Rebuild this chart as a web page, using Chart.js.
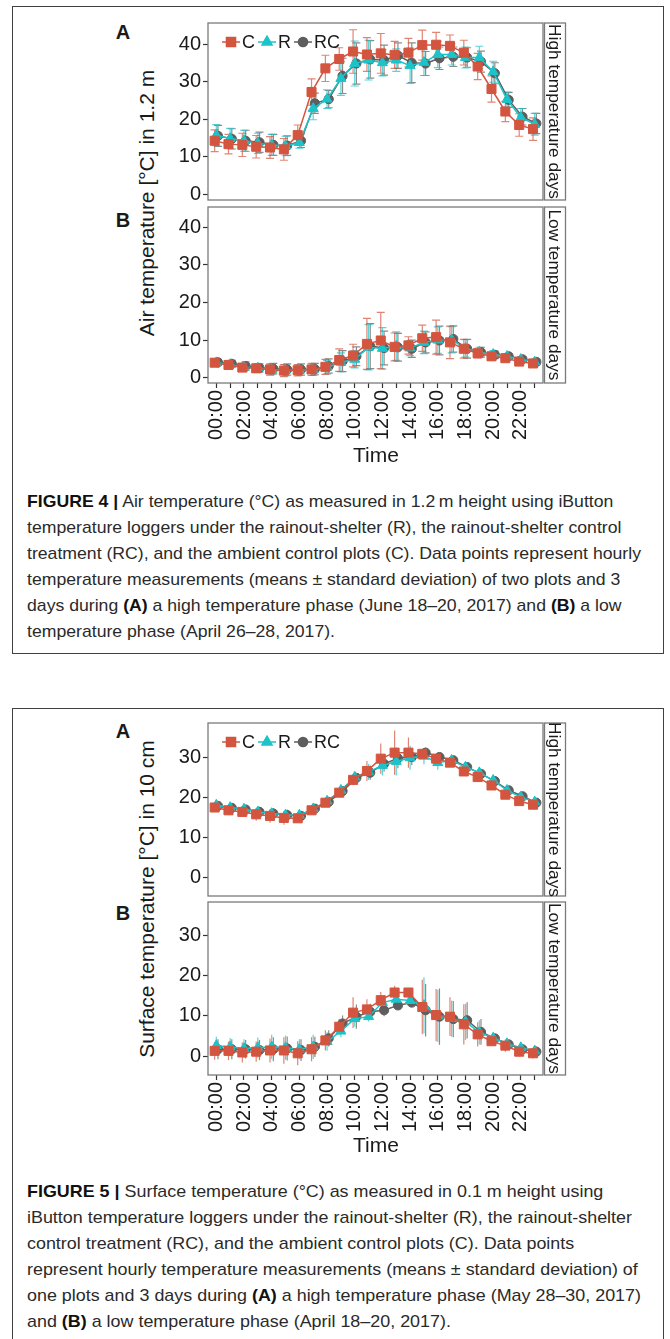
<!DOCTYPE html>
<html>
<head>
<meta charset="utf-8">
<title>Figures 4 and 5</title>
<script src="https://cdn.jsdelivr.net/npm/chart.js@4.4.1/dist/chart.umd.min.js"></script>
<style>
  body { margin:0; width:670px; height:1339px; position:relative; overflow:hidden; background:#fff;
         font-family:"Liberation Sans", Arial, sans-serif; color:#1a1a1a; }
  .box { position:absolute; left:12px; width:650px; border:1px solid #404040; }
  canvas { position:absolute; left:150px; }
  .tag { position:absolute; font-weight:bold; font-size:20px; line-height:20px; width:20px; text-align:center; }
  .ytitle { position:absolute; left:-53px; width:400px; height:24px; line-height:24px; text-align:center;
            font-size:21px; transform:rotate(-90deg); white-space:nowrap; }
  .xtitle { position:absolute; left:276px; width:200px; text-align:center; font-size:21px; line-height:24px; }
  .cap { position:absolute; left:27px; font-size:17px; line-height:26px; color:#2a2a2a; white-space:nowrap; transform-origin:0 0; }
  .cap b { color:#111; }
</style>
</head>
<body>
<div class="box" style="top:6px;height:646px"></div>
<div class="box" style="top:708px;height:700px"></div>

<div class="tag" style="left:113px;top:22px">A</div>
<div class="tag" style="left:113px;top:210px">B</div>
<div class="ytitle" style="top:191px">Air temperature [°C] in 1.2 m</div>
<canvas id="air-high" width="420" height="193" style="top:15px;width:420px;height:193px"></canvas>
<canvas id="air-low" width="420" height="246" style="top:199px;width:420px;height:246px"></canvas>
<div class="xtitle" style="top:443px">Time</div>
<div class="cap" id="cap4" style="top:489px">
<span class="ln"><b>FIGURE 4 |</b> Air temperature (°C) as measured in 1.2&thinsp;m height using iButton</span><br>
<span class="ln">temperature loggers under the rainout-shelter (R), the rainout-shelter control</span><br>
<span class="ln">treatment (RC), and the ambient control plots (C). Data points represent hourly</span><br>
<span class="ln">temperature measurements (means ± standard deviation) of two plots and 3</span><br>
<span class="ln">days during <b>(A)</b> a high temperature phase (June 18–20, 2017) and <b>(B)</b> a low</span><br>
<span class="ln">temperature phase (April 26–28, 2017).</span>
</div>

<div class="tag" style="left:113px;top:721px">A</div>
<div class="tag" style="left:113px;top:903px">B</div>
<div class="ytitle" style="top:887px">Surface temperature [°C] in 10 cm</div>
<canvas id="surf-high" width="420" height="189" style="top:715px;width:420px;height:189px"></canvas>
<canvas id="surf-low" width="420" height="243" style="top:894px;width:420px;height:243px"></canvas>
<div class="xtitle" style="top:1133px">Time</div>
<div class="cap" id="cap5" style="top:1179px">
<span class="ln"><b>FIGURE 5 |</b> Surface temperature (°C) as measured in 0.1 m height using</span><br>
<span class="ln">iButton temperature loggers under the rainout-shelter (R), the rainout-shelter</span><br>
<span class="ln">control treatment (RC), and the ambient control plots (C). Data points</span><br>
<span class="ln">represent hourly temperature measurements (means ± standard deviation) of</span><br>
<span class="ln">one plots and 3 days during <b>(A)</b> a high temperature phase (May 28–30, 2017)</span><br>
<span class="ln">and <b>(B)</b> a low temperature phase (April 18–20, 2017).</span>
</div>

<script>
const hours = [0,1,2,3,4,5,6,7,8,9,10,11,12,13,14,15,16,17,18,19,20,21,22,23];
const timeLabels = ["00:00","02:00","04:00","06:00","08:00","10:00","12:00","14:00","16:00","18:00","20:00","22:00"];
const seriesNames = ["C", "R", "RC"];
const airTicks = [0, 10, 20, 30, 40];
const surfTicks = [0, 10, 20, 30];

// Figure 4 A - air, high temperature days
const airHighC    = [14.2,13.3,13.1,12.6,12.4,11.9,15.7,27.2,33.5,36.0,38.0,37.2,37.5,37.1,37.7,39.7,39.8,39.5,37.7,34.0,28.0,22.0,18.4,17.3];
const airHighCSd  = [2.9,2.6,3.1,3.0,2.9,2.9,2.7,3.5,3.5,3.0,5.8,4.5,5.3,3.6,3.8,4.0,3.3,2.9,3.3,3.5,3.5,2.7,3.0,3.0];
const airHighR    = [15.7,14.8,14.2,13.5,13.1,12.8,13.7,22.8,25.3,30.8,34.8,35.7,35.0,35.7,34.2,35.1,37.2,37.2,36.4,36.4,32.6,25.2,20.4,18.6];
const airHighRSd  = [2.8,2.7,2.8,2.7,2.8,2.6,1.5,3.0,2.5,4.5,6.0,5.3,3.5,3.0,4.7,3.5,3.5,2.8,2.8,3.0,2.8,2.0,2.4,2.9];
const airHighRC   = [15.5,14.7,14.2,13.8,13.1,12.9,14.2,24.2,25.3,31.5,34.8,35.9,35.7,36.9,35.0,34.8,36.2,36.6,36.4,35.3,32.2,25.1,20.6,18.8];
const airHighRCSd = [2.8,2.7,2.8,2.7,2.8,2.6,1.8,2.7,2.3,4.7,5.5,5.0,4.0,3.4,5.3,3.2,3.0,2.6,2.6,2.8,2.8,2.0,2.2,2.7];

// Figure 4 B - air, low temperature days
const airLowC    = [4.0,3.4,2.7,2.5,2.2,1.9,2.0,2.2,2.9,4.7,5.9,9.0,9.9,8.2,8.6,10.5,10.8,9.4,7.7,6.5,5.7,5.2,4.3,3.8];
const airLowCSd  = [0.8,0.9,1.0,1.1,1.5,1.6,1.5,1.6,2.0,3.0,3.0,6.8,7.5,3.7,2.3,3.5,4.5,4.3,2.5,1.2,1.0,0.6,0.7,0.8];
const airLowR    = [4.0,3.5,2.8,2.6,2.2,2.0,2.0,2.1,2.8,4.1,4.9,8.1,7.8,8.4,7.9,9.4,10.0,10.1,7.8,6.8,6.2,5.7,4.9,4.2];
const airLowRSd  = [0.8,0.9,1.0,1.1,1.4,1.5,1.4,1.5,1.8,2.5,2.3,6.0,5.5,3.8,2.0,3.0,3.5,3.5,2.3,1.3,1.0,0.7,0.7,0.7];
const airLowRC   = [4.1,3.7,3.1,2.6,2.4,2.2,2.2,2.3,3.1,4.4,5.7,8.4,7.9,8.1,7.7,9.4,9.9,10.3,7.7,6.8,6.1,5.7,4.9,4.2];
const airLowRCSd = [0.8,0.9,1.1,1.1,1.4,1.5,1.5,1.5,1.9,2.8,2.5,6.0,4.5,3.7,2.3,2.8,3.8,3.5,2.5,1.3,1.0,0.7,0.7,0.8];

// Figure 5 A - surface, high temperature days
const surfHighC    = [17.4,16.7,16.3,15.7,15.3,14.8,14.7,16.7,18.6,21.1,24.3,26.5,29.6,31.1,31.1,30.8,29.6,28.6,26.4,25.0,22.9,20.6,19.0,18.1];
const surfHighCSd  = [1.0,1.2,1.3,1.6,1.7,1.7,1.0,0.8,0.6,0.9,1.3,2.5,3.8,5.5,3.8,1.3,1.0,0.8,0.7,0.8,0.8,0.6,0.5,0.5];
const surfHighR    = [18.0,17.4,17.0,16.3,15.9,15.5,15.5,17.1,19.0,21.7,25.0,26.3,27.9,28.9,29.8,30.2,28.6,29.2,27.5,26.1,24.2,21.7,20.0,18.8];
const surfHighRSd  = [0.8,1.0,1.1,1.3,1.4,1.4,0.9,0.7,0.6,0.9,1.2,2.0,2.5,3.5,3.0,2.0,1.8,1.3,0.8,0.8,0.8,0.6,0.5,0.5];
const surfHighRC   = [17.8,17.3,16.9,16.3,15.9,15.5,15.3,17.1,18.8,21.5,24.8,26.1,28.3,29.7,30.0,31.1,30.0,29.2,27.5,25.8,24.0,21.7,20.2,18.6];
const surfHighRCSd = [0.8,1.0,1.1,1.3,1.4,1.4,0.9,0.7,0.6,0.9,1.2,1.8,2.0,2.5,2.0,1.2,1.0,0.8,0.7,0.7,0.7,0.5,0.5,0.5];

// Figure 5 B - surface, low temperature days
const surfLowC    = [1.3,1.3,0.9,1.1,1.4,1.4,0.7,1.7,3.9,7.3,10.8,11.6,13.9,15.8,15.8,12.2,10.2,9.8,7.9,5.4,3.7,2.6,1.1,0.7];
const surfLowCSd  = [2.2,2.3,2.5,2.5,3.0,3.3,3.0,3.0,2.5,2.0,3.8,2.5,2.0,1.7,1.0,6.8,6.5,4.8,5.0,3.0,1.0,1.5,1.2,1.3];
const surfLowR    = [2.6,2.3,1.9,2.1,2.3,2.1,1.7,2.3,3.6,6.2,9.3,9.8,13.3,14.1,13.8,12.6,10.0,9.3,8.5,5.9,4.5,3.1,2.1,1.3];
const surfLowRSd  = [2.2,2.2,2.3,2.5,3.0,3.0,2.5,3.0,2.3,1.5,2.0,1.2,1.5,1.5,1.0,7.0,6.5,4.5,4.5,3.0,1.2,1.2,1.0,1.3];
const surfLowRC   = [1.7,1.7,1.7,1.5,1.7,1.9,1.5,2.3,4.4,8.1,9.8,11.0,11.4,12.6,13.3,11.4,9.8,9.2,8.9,6.0,4.4,2.9,1.7,1.1];
const surfLowRCSd = [2.5,2.5,2.3,2.5,3.0,3.0,2.7,2.5,2.0,2.0,3.0,2.0,1.5,0.8,0.8,6.5,7.0,4.5,4.5,3.2,1.0,1.0,1.0,1.3];

const FONT = '"Liberation Sans", Arial, sans-serif';
const colors = ["#D4553F", "#1CC3C9", "#5E5E5E"];
const barColors = ["rgba(212,85,63,0.72)", "rgba(28,195,201,0.72)", "rgba(94,94,94,0.72)"];
const shapes = ["rect", "triangle", "circle"];
const radii = [6.4, 5.8, 4.6];
const dodge = [-0.12, 0, 0.12];

Chart.defaults.font.family = FONT;
Chart.defaults.color = "#1a1a1a";

function drawMarker(ctx, i, x, y) {
  ctx.fillStyle = colors[i];
  Chart.helpers.drawPoint(ctx, { pointStyle: shapes[i], radius: radii[i], borderWidth: 1 }, x, y);
  ctx.fill();
}

function panel(id, o) {
  const decor = {
    id: "decor",
    beforeDatasetsDraw(chart) {
      const ctx = chart.ctx, xs = chart.scales.x, ys = chart.scales.y;
      ctx.save();
      ctx.lineWidth = 1.2;
      for (let i = chart.data.datasets.length - 1; i >= 0; i--) {
        const sd = o.sds[i];
        ctx.strokeStyle = barColors[i];
        chart.data.datasets[i].data.forEach((p, j) => {
          const x = xs.getPixelForValue(p.x);
          const lo = ys.getPixelForValue(p.y - sd[j]);
          const hi = ys.getPixelForValue(p.y + sd[j]);
          ctx.beginPath();
          ctx.moveTo(x, lo); ctx.lineTo(x, hi);
          if (o.cap) {
            ctx.moveTo(x - o.cap, lo); ctx.lineTo(x + o.cap, lo);
            ctx.moveTo(x - o.cap, hi); ctx.lineTo(x + o.cap, hi);
          }
          ctx.stroke();
        });
      }
      ctx.restore();
    },
    afterDraw(chart) {
      const ctx = chart.ctx, a = chart.chartArea;
      ctx.save();
      ctx.strokeStyle = "#7a7a7a";
      ctx.lineWidth = 1.3;
      ctx.strokeRect(a.left, a.top, a.right - a.left, a.bottom - a.top);
      // facet strip on the right
      ctx.fillStyle = "#fff";
      ctx.fillRect(a.right + 1.5, a.top, 21, a.bottom - a.top);
      ctx.strokeRect(a.right + 1.5, a.top, 21, a.bottom - a.top);
      ctx.translate(a.right + 12, (a.top + a.bottom) / 2);
      ctx.rotate(Math.PI / 2);
      ctx.fillStyle = "#1a1a1a";
      ctx.font = "17.3px " + FONT;
      ctx.textAlign = "center";
      ctx.textBaseline = "middle";
      ctx.fillText(o.strip, 0, 1);
      ctx.restore();

      if (o.legend) {
        ctx.save();
        ctx.font = "18px " + FONT;
        ctx.textBaseline = "middle";
        let x = a.left + 14;
        const y = a.top + o.legend;
        seriesNames.forEach((name, i) => {
          ctx.strokeStyle = colors[i];
          ctx.lineWidth = 1.5;
          ctx.beginPath(); ctx.moveTo(x, y); ctx.lineTo(x + 18, y); ctx.stroke();
          drawMarker(ctx, i, x + 9, y);
          ctx.fillStyle = "#1a1a1a";
          ctx.fillText(name, x + 20, y + 1);
          x += 21 + ctx.measureText(name).width + 2;
        });
        ctx.restore();
      }
    }
  };

  const datasets = o.means.map((m, i) => ({
    label: seriesNames[i],
    data: hours.map((h, j) => ({ x: h + dodge[i], y: m[j] })),
    borderColor: colors[i],
    backgroundColor: colors[i],
    borderWidth: 1.5,
    pointStyle: shapes[i],
    pointRadius: radii[i],
    pointBorderWidth: 1,
    pointBackgroundColor: colors[i],
    pointBorderColor: colors[i],
    tension: 0
  }));

  new Chart(id, {
    type: "line",
    data: { datasets },
    options: {
      responsive: false,
      animation: false,
      layout: { padding: { left: 0, right: 27, top: 8, bottom: o.showX ? 0 : 8 } },
      plugins: { legend: { display: false }, tooltip: { enabled: false } },
      scales: {
        x: {
          type: "linear",
          min: -0.6, max: 23.6,
          display: o.showX,
          border: { display: false },
          grid: { drawOnChartArea: false, color: "#333", tickLength: 5, tickWidth: 1.2 },
          afterBuildTicks: s => { s.ticks = hours.map(h => ({ value: h })); },
          afterFit: s => {
            if (o.showX) s.height = 62;
            s.paddingLeft = 0; s.paddingRight = 0;
          },
          ticks: {
            autoSkip: false, maxRotation: 90, minRotation: 90, padding: 2,
            font: { size: 20 }, color: "#1a1a1a",
            callback: v => (v % 2 === 0 ? timeLabels[v / 2] : "")
          }
        },
        y: {
          min: o.yMin, max: o.yMax,
          border: { display: false },
          grid: { drawOnChartArea: false, color: "#333", tickLength: 5, tickWidth: 1.2 },
          afterBuildTicks: s => { s.ticks = o.yTicks.map(v => ({ value: v })); },
          afterFit: s => { s.width = 58; s.paddingTop = 0; s.paddingBottom = 0; },
          ticks: { padding: 2, font: { size: 20 }, color: "#1a1a1a" }
        }
      }
    },
    plugins: [decor]
  });
}

panel("air-high", {
  means: [airHighC, airHighR, airHighRC], sds: [airHighCSd, airHighRSd, airHighRCSd],
  yMin: -1.6, yMax: 45.6, yTicks: airTicks, showX: false, cap: 4, strip: "High temperature days", legend: 19
});
panel("air-low", {
  means: [airLowC, airLowR, airLowRC], sds: [airLowCSd, airLowRSd, airLowRCSd],
  yMin: -1.4, yMax: 45.4, yTicks: airTicks, showX: true, cap: 4, strip: "Low temperature days"
});
panel("surf-high", {
  means: [surfHighC, surfHighR, surfHighRC], sds: [surfHighCSd, surfHighRSd, surfHighRCSd],
  yMin: -4.7, yMax: 38.5, yTicks: surfTicks, showX: false, cap: 0, strip: "High temperature days", legend: 19
});
panel("surf-low", {
  means: [surfLowC, surfLowR, surfLowRC], sds: [surfLowCSd, surfLowRSd, surfLowRCSd],
  yMin: -4.7, yMax: 38.3, yTicks: surfTicks, showX: true, cap: 0, strip: "Low temperature days"
});

// captions use a condensed face in the original; squeeze each block to the printed width
function fitCaption(id, target) {
  const el = document.getElementById(id);
  let w = 0;
  el.querySelectorAll("span.ln").forEach(s => { w = Math.max(w, s.getBoundingClientRect().width); });
  if (w > 0) el.style.transform = "scaleX(" + (target / w) + ")";
}
fitCaption("cap4", 614);
fitCaption("cap5", 614);
</script>
</body>
</html>
